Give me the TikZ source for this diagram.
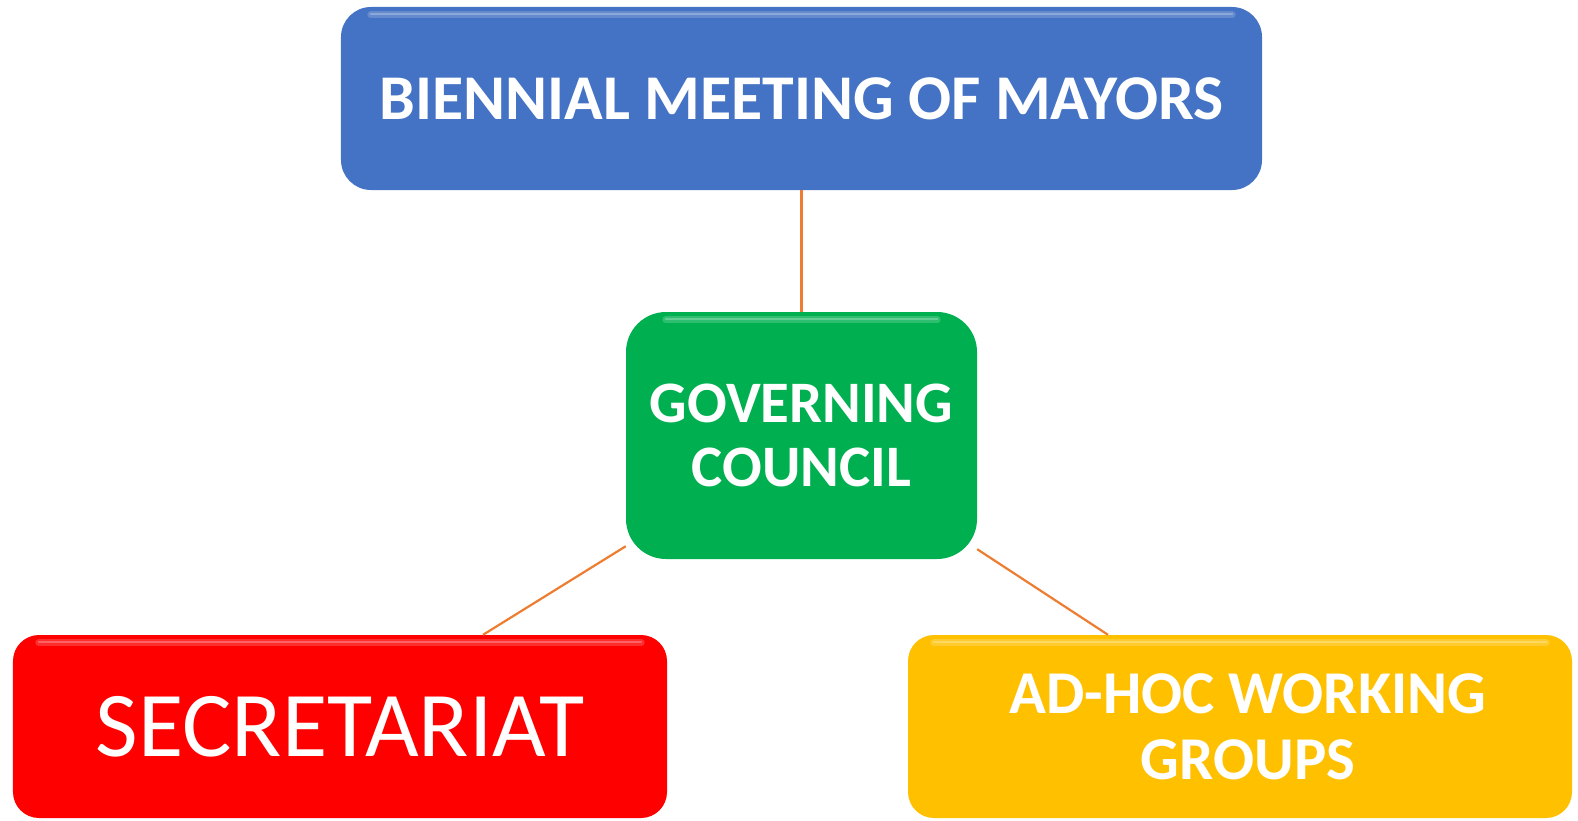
\documentclass[tikz,border=0pt]{standalone}
\usepackage{fontspec}
\setmainfont{Carlito}
\usetikzlibrary{calc}
\definecolor{boxblue}{HTML}{4472C4}
\definecolor{boxgreen}{HTML}{00B050}
\definecolor{boxred}{HTML}{FF0000}
\definecolor{boxyellow}{HTML}{FFC000}
\definecolor{linkorange}{HTML}{ED7D31}
\tikzset{
  orgbox/.style={rectangle, rounded corners=#1, text=white, align=center, inner sep=0pt},
  orgbox/.default=30bp,
  link/.style={draw=linkorange, line width=2.2bp},
  gloss/.style={draw=white, draw opacity=0.18, line width=7bp, line cap=round},
  glosscore/.style={draw=white, draw opacity=0.25, line width=2.5bp, line cap=round}
}
\begin{document}
\begin{tikzpicture}[x=1bp,y=-1bp]
\useasboundingbox (0,0) rectangle (1578,820);
% boxes
\node[orgbox=30bp, fill=boxblue, minimum width=921bp, minimum height=183bp,
  font=\fontsize{64}{66}\selectfont\bfseries] (blue) at (801.5,98.5) {BIENNIAL MEETING OF MAYORS};
\node[orgbox=40bp, fill=boxgreen, minimum width=351bp, minimum height=247bp,
  font=\fontsize{59}{64}\selectfont\bfseries] (green) at (801.5,435.5) {GOVERNING\\COUNCIL};
\node[orgbox=26bp, fill=boxred, minimum width=654bp, minimum height=183bp,
  font=\fontsize{93}{96}\selectfont] (red) at (340,726.5) {SECRETARIAT};
\node[orgbox=26bp, fill=boxyellow, minimum width=664bp, minimum height=183bp,
  font=\fontsize{61}{66}\selectfont\bfseries] (yellow) at (1240,726.5) {\hspace*{16bp}AD-HOC WORKING\\\hspace*{16bp}GROUPS};
% gloss highlights
\foreach \b/\r in {blue/30,green/40,red/26,yellow/26}{
  \draw[gloss] ($(\b.north west)+(\r,8)$) -- ($(\b.north east)+(-\r,8)$);
  \draw[glosscore] ($(\b.north west)+(\r,7)$) -- ($(\b.north east)+(-\r,7)$);
}
% connectors
\coordinate (gl) at ($(green.south west)+(0,-13)$);
\coordinate (gr) at ($(green.south east)+(0,-10)$);
\draw[link] (blue.south) -- (green.north);
\draw[link] (gl) -- (red.north -| 483,0);
\draw[link] (gr) -- (yellow.north -| 1108,0);
\end{tikzpicture}
\end{document}
